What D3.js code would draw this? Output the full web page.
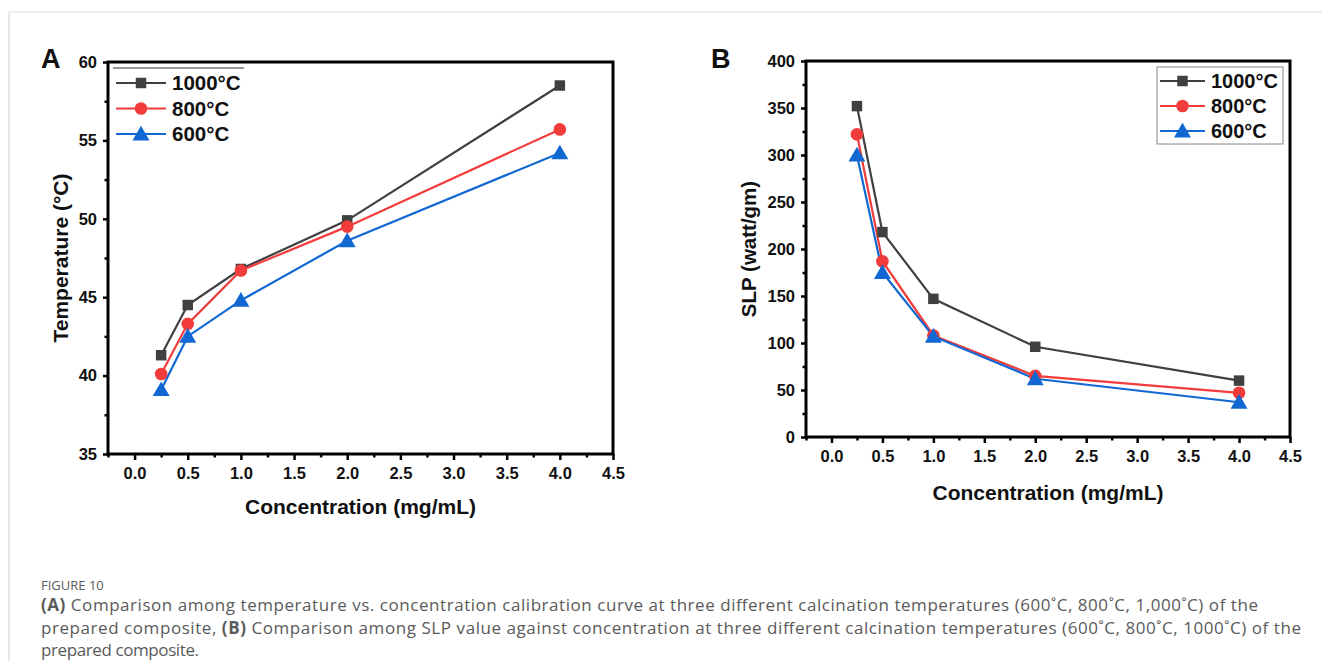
<!DOCTYPE html>
<html lang="en">
<head>
<meta charset="UTF-8">
<title>Figure 10</title>
<script src="https://d3js.org/d3.v7.min.js"></script>
<style>
  body { margin: 0; background: #fff; }
  svg text { font-family: "Liberation Sans", Arial, sans-serif; }
  svg text.cap { font-family: "Open Sans", sans-serif; fill: #5a5a5a; }
</style>
</head>
<body>
<div id="chart"></div>
<script>
// data
const concentrations = [0.25, 0.5, 1.0, 2.0, 4.0];
const seriesNames = ["1000°C", "800°C", "600°C"];
const tempValues = [
  [41.3, 44.5, 46.8, 49.9, 58.5],
  [40.1, 43.3, 46.7, 49.5, 55.7],
  [39.1, 42.5, 44.8, 48.6, 54.2]
];
const slpValues = [
  [352, 218, 147, 96, 60],
  [322, 187, 108, 65, 47],
  [300, 175, 107, 62, 37]
];
const xTicks = [0, 0.5, 1, 1.5, 2, 2.5, 3, 3.5, 4, 4.5];
const tempTicks = [35, 40, 45, 50, 55, 60];
const slpTicks = [0, 50, 100, 150, 200, 250, 300, 350, 400];

const colors = ["#404040", "#f23c3c", "#1268d2"];
const shapes = [d3.symbolSquare, d3.symbolCircle, d3.symbolTriangle];
const sizes = [110, 125, 125];

const W = 1322, H = 661;
const svg = d3.select("#chart").append("svg").attr("width", W).attr("height", H);

// outer frame
svg.append("line").attr("x1", 9).attr("x2", W).attr("y1", 12).attr("y2", 12)
  .attr("stroke", "#d9d9d9").attr("stroke-width", 1.2);
svg.append("line").attr("x1", 9).attr("x2", 9).attr("y1", 12).attr("y2", H)
  .attr("stroke", "#d9d9d9").attr("stroke-width", 1.2);

function panel(opt) {
  const x = d3.scaleLinear().domain([-0.25, 4.5]).range([opt.left, opt.right]);
  const y = d3.scaleLinear().domain(opt.yDomain).range([opt.bottom, opt.top]);
  const g = svg.append("g");

  // minor ticks
  const xMinor = d3.range(-0.25, 4.5001, 0.25).filter(v => Math.abs(v * 2 - Math.round(v * 2)) > 0.01);
  const yStep = (opt.yTicks[1] - opt.yTicks[0]) / 2;
  const yMinor = d3.range(opt.yDomain[0] + yStep, opt.yDomain[1], yStep * 2);

  g.append("g").attr("transform", `translate(0,${opt.bottom})`)
    .call(d3.axisBottom(x).tickValues(xTicks).tickFormat(d3.format(".1f")).tickSize(6).tickPadding(7));
  g.append("g").attr("transform", `translate(0,${opt.bottom})`)
    .call(d3.axisBottom(x).tickValues(xMinor).tickFormat("").tickSize(3.5));
  g.append("g").attr("transform", `translate(${opt.left},0)`)
    .call(d3.axisLeft(y).tickValues(opt.yTicks).tickSize(5).tickPadding(6));
  g.append("g").attr("transform", `translate(${opt.left},0)`)
    .call(d3.axisLeft(y).tickValues(yMinor).tickFormat("").tickSize(3.5));

  g.selectAll(".tick line").attr("stroke", "#000").attr("stroke-width", 2.5);
  g.selectAll(".domain").remove();
  g.selectAll(".tick text").attr("font-size", 16.5).attr("font-weight", "bold").attr("fill", "#111");

  // box
  g.append("rect").attr("x", opt.left).attr("y", opt.top)
    .attr("width", opt.right - opt.left).attr("height", opt.bottom - opt.top)
    .attr("fill", "none").attr("stroke", "#000").attr("stroke-width", 3);

  // series
  const line = d3.line().x((d, i) => x(concentrations[i])).y(d => y(d));
  opt.values.forEach((vals, s) => {
    g.append("path").datum(vals).attr("d", line)
      .attr("fill", "none").attr("stroke", colors[s]).attr("stroke-width", 2.2);
  });
  opt.values.forEach((vals, s) => {
    g.selectAll(null).data(vals).enter().append("path")
      .attr("d", d3.symbol().type(shapes[s]).size(sizes[s]))
      .attr("transform", (d, i) => `translate(${x(concentrations[i])},${y(d) + (s === 2 ? 1.5 : 0)})`)
      .attr("fill", colors[s]);
  });

  // axis titles
  g.append("text").attr("x", (opt.left + opt.right) / 2).attr("y", opt.xTitleY)
    .attr("text-anchor", "middle").attr("font-size", 21).attr("font-weight", "bold")
    .attr("fill", "#111").text("Concentration (mg/mL)");
  g.append("text").attr("transform", `translate(${opt.yTitleX},${(opt.top + opt.bottom) / 2}) rotate(-90)`)
    .attr("text-anchor", "middle").attr("font-size", opt.yTitleFs).attr("font-weight", "bold")
    .attr("fill", "#111").text(opt.yTitle);

  // panel letter
  g.append("text").attr("x", opt.letterX).attr("y", 68).attr("font-size", 27)
    .attr("font-weight", "bold").attr("fill", "#111").text(opt.letter);

  // legend
  const L = opt.legend;
  const lg = g.append("g");
  if (L.boxed) {
    lg.append("rect").attr("x", L.x).attr("y", L.y).attr("width", L.w).attr("height", L.h)
      .attr("fill", "#fff").attr("stroke", "#888").attr("stroke-width", 1);
  } else {
    lg.append("line").attr("x1", L.x).attr("x2", L.x + L.w).attr("y1", L.y).attr("y2", L.y)
      .attr("stroke", "#333").attr("stroke-width", 1);
  }
  seriesNames.forEach((name, s) => {
    const cy = L.y + L.first + s * L.gap;
    lg.append("line").attr("x1", L.x + 3).attr("x2", L.x + 3 + L.lineLen)
      .attr("y1", cy).attr("y2", cy).attr("stroke", colors[s]).attr("stroke-width", 2);
    lg.append("path").attr("d", d3.symbol().type(shapes[s]).size(sizes[s]))
      .attr("transform", `translate(${L.x + 3 + L.lineLen / 2},${cy + (s === 2 ? 1.5 : 0)})`)
      .attr("fill", colors[s]);
    lg.append("text").attr("x", L.x + L.lineLen + 9).attr("y", cy).attr("dy", "0.36em")
      .attr("font-size", L.fs).attr("font-weight", "bold").attr("fill", "#111").text(name);
  });
}

panel({
  left: 108, right: 613, top: 62, bottom: 454,
  yDomain: [35, 60], yTicks: tempTicks, values: tempValues,
  yTitle: "Temperature (°C)", yTitleX: 68, yTitleFs: 21, xTitleY: 514,
  letter: "A", letterX: 41,
  legend: { boxed: false, x: 113, y: 68, w: 131, h: 80, first: 15, gap: 25.5, lineLen: 50, fs: 20.5 }
});

panel({
  left: 806, right: 1290, top: 61, bottom: 437,
  yDomain: [0, 400], yTicks: slpTicks, values: slpValues,
  yTitle: "SLP (watt/gm)", yTitleX: 756, yTitleFs: 20.5, xTitleY: 500,
  letter: "B", letterX: 711,
  legend: { boxed: true, x: 1157, y: 67, w: 126, h: 77, first: 14, gap: 25, lineLen: 45, fs: 20 }
});

// caption
const capLines = [
  { w: 1217, parts: [["(A)", true], [" Comparison among temperature vs. concentration calibration curve at three different calcination temperatures (600˚C, 800˚C, 1,000˚C) of the", false]] },
  { w: 1260, parts: [["prepared composite, ", false], ["(B)", true], [" Comparison among SLP value against concentration at three different calcination temperatures (600˚C, 800˚C, 1000˚C) of the", false]] },
  { w: 158, parts: [["prepared composite.", false]] }
];
svg.append("text").attr("class", "cap").attr("x", 41).attr("y", 590)
  .attr("font-size", 13).attr("fill", "#666").text("FIGURE 10");
capLines.forEach((ln, i) => {
  const t = svg.append("text").attr("class", "cap").attr("x", 41).attr("y", 611 + i * 22.5)
    .attr("font-size", 17).attr("textLength", ln.w).attr("lengthAdjust", "spacing");
  ln.parts.forEach(p => t.append("tspan").attr("font-weight", p[1] ? "bold" : "normal").text(p[0]));
});
</script>
</body>
</html>
